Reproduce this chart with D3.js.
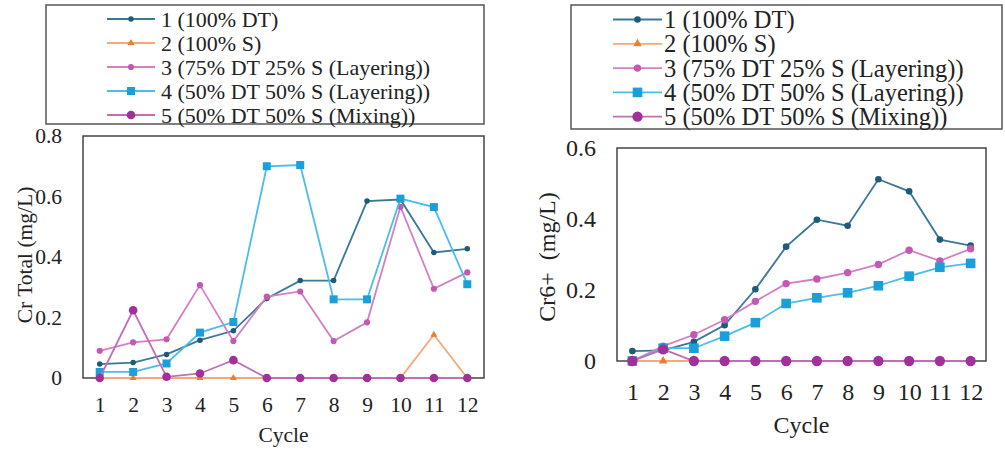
<!DOCTYPE html>
<html>
<head>
<meta charset="utf-8">
<script src="https://cdn.jsdelivr.net/npm/d3@7"></script>
<style>
  html, body { margin: 0; padding: 0; background: #fff; }
  svg { display: block; }
  text { font-family: "Liberation Serif", "Times New Roman", serif; fill: #222; }
</style>
</head>
<body>
<svg id="chart" width="1005" height="453"></svg>
<script>
const cycles = [1, 2, 3, 4, 5, 6, 7, 8, 9, 10, 11, 12];
const seriesNames = [
  '1 (100% DT)',
  '2 (100% S)',
  '3 (75% DT 25% S (Layering))',
  '4 (50% DT 50% S (Layering))',
  '5 (50% DT 50% S (Mixing))',
];

// Cr Total (mg/L)
const crTotal1 = [0.046, 0.051, 0.078, 0.125, 0.156, 0.263, 0.322, 0.322, 0.585, 0.59, 0.415, 0.427];
const crTotal2 = [0, 0, 0, 0, 0, 0, 0, 0, 0, 0, 0.143, 0];
const crTotal3 = [0.09, 0.118, 0.128, 0.307, 0.122, 0.269, 0.286, 0.122, 0.184, 0.566, 0.295, 0.349];
const crTotal4 = [0.02, 0.02, 0.048, 0.15, 0.185, 0.70, 0.704, 0.26, 0.26, 0.593, 0.565, 0.31];
const crTotal5 = [0, 0.224, 0.004, 0.015, 0.059, 0, 0, 0, 0, 0, 0, 0];

// Cr6+ (mg/L)
const cr6_1 = [0.028, 0.03, 0.054, 0.101, 0.202, 0.322, 0.398, 0.381, 0.512, 0.478, 0.342, 0.325];
const cr6_2 = [0, 0, 0, 0, 0, 0, 0, 0, 0, 0, 0, 0];
const cr6_3 = [0, 0.042, 0.074, 0.116, 0.168, 0.218, 0.231, 0.249, 0.272, 0.312, 0.282, 0.316];
const cr6_4 = [0, 0.036, 0.036, 0.07, 0.108, 0.162, 0.178, 0.192, 0.212, 0.239, 0.264, 0.275];
const cr6_5 = [0, 0.033, 0, 0, 0, 0, 0, 0, 0, 0, 0, 0];

const crTotalTicks = [0, 0.2, 0.4, 0.6, 0.8];
const cr6Ticks = [0, 0.2, 0.4, 0.6];

const lineColors = ['#3a7896', '#f6a87a', '#d47fc4', '#4bbde8', '#c36cb8'];
const markColors = ['#1d5b7c', '#ed7d31', '#c458b2', '#1a9fdb', '#a2309a'];
const markTypes = ['circle', 'triangle', 'diamond', 'square', 'bigcircle'];

function markerPath(type, big) {
  const k = big ? 1.2 : 1;
  if (type === 'circle') return d3.symbol(d3.symbolCircle, 24 * k * k)();
  if (type === 'triangle') return d3.symbol(d3.symbolTriangle, 22 * k * k)();
  if (type === 'diamond') return d3.symbol(d3.symbolCircle, 30 * k * k)();
  if (type === 'square') return d3.symbol(d3.symbolSquare, 64 * k * k)();
  return d3.symbol(d3.symbolCircle, 58 * k * k)();
}

function fmt(d) {
  return d === 0 ? '0' : d3.format('.1f')(d);
}

function drawChart(svg, cfg) {
  const g = svg.append('g');
  const xScale = d3.scalePoint()
    .domain(cycles)
    .range([cfg.left, cfg.right])
    .padding(0.5);
  const yScale = d3.scaleLinear()
    .domain([0, cfg.yMax])
    .range([cfg.bottom, cfg.top]);

  // frame
  g.append('rect')
    .attr('x', cfg.left)
    .attr('y', cfg.top)
    .attr('width', cfg.right - cfg.left)
    .attr('height', cfg.bottom - cfg.top)
    .attr('fill', 'none')
    .attr('stroke', '#444')
    .attr('stroke-width', 1.5);

  const xAxis = d3.axisBottom(xScale).tickSize(0).tickPadding(cfg.xPad);
  const xg = g.append('g')
    .attr('transform', `translate(0, ${cfg.bottom})`)
    .call(xAxis);
  xg.select('.domain').remove();
  xg.selectAll('text')
    .style('font-family', '"Liberation Serif", serif')
    .style('font-size', `${cfg.font}px`)
    .style('fill', '#222');

  const yAxis = d3.axisLeft(yScale).tickValues(cfg.ticks).tickFormat(fmt)
    .tickSize(0).tickPadding(cfg.yPad);
  const yg = g.append('g')
    .attr('transform', `translate(${cfg.left}, 0)`)
    .call(yAxis);
  yg.select('.domain').remove();
  yg.selectAll('text')
    .style('font-family', '"Liberation Serif", serif')
    .style('font-size', `${cfg.font}px`)
    .style('fill', '#222');

  g.append('text')
    .attr('x', (cfg.left + cfg.right) / 2)
    .attr('y', cfg.xTitleY)
    .attr('text-anchor', 'middle')
    .style('font-size', `${cfg.font}px`)
    .text('Cycle');

  g.append('text')
    .attr('transform', `translate(${cfg.yTitleX}, ${cfg.yTitleY}) rotate(-90)`)
    .attr('text-anchor', 'middle')
    .attr('dominant-baseline', 'central')
    .style('font-size', `${cfg.font}px`)
    .style('white-space', 'pre')
    .text(cfg.yTitle);

  const line = d3.line()
    .x((d, i) => xScale(cycles[i]))
    .y((d) => yScale(d));

  cfg.series.forEach((values, s) => {
    g.append('path')
      .datum(values)
      .attr('d', line)
      .attr('fill', 'none')
      .attr('stroke', lineColors[s])
      .attr('stroke-width', 1.8);
    g.selectAll(null)
      .data(values)
      .enter()
      .append('path')
      .attr('d', markerPath(markTypes[s], cfg.big))
      .attr('transform', (d, i) => `translate(${xScale(cycles[i])}, ${yScale(d)})`)
      .attr('fill', markColors[s]);
  });

  // legend
  const lg = svg.append('g');
  lg.append('rect')
    .attr('x', cfg.legend.x0)
    .attr('y', cfg.legend.y0)
    .attr('width', cfg.legend.x1 - cfg.legend.x0)
    .attr('height', cfg.legend.y1 - cfg.legend.y0)
    .attr('fill', '#fff')
    .attr('stroke', '#555')
    .attr('stroke-width', 1.5);
  seriesNames.forEach((name, s) => {
    const y = cfg.legend.firstRow + s * cfg.legend.rowGap;
    lg.append('line')
      .attr('x1', cfg.legend.lineX0)
      .attr('x2', cfg.legend.lineX1)
      .attr('y1', y)
      .attr('y2', y)
      .attr('stroke', lineColors[s])
      .attr('stroke-width', 1.8);
    lg.append('path')
      .attr('d', markerPath(markTypes[s], cfg.big))
      .attr('transform', `translate(${(cfg.legend.lineX0 + cfg.legend.lineX1) / 2}, ${y})`)
      .attr('fill', markColors[s]);
    lg.append('text')
      .attr('x', cfg.legend.textX)
      .attr('y', y)
      .attr('dominant-baseline', 'central')
      .style('font-size', `${cfg.legend.font}px`)
      .text(name);
  });
}

const svg = d3.select('#chart');

drawChart(svg, {
  left: 83, right: 484, top: 136, bottom: 378,
  yMax: 0.8, ticks: crTotalTicks,
  series: [crTotal1, crTotal2, crTotal3, crTotal4, crTotal5],
  font: 21.5, xPad: 19, yPad: 21,
  xTitleY: 442, yTitleX: 25, yTitleY: 255,
  yTitle: 'Cr Total (mg/L)',
  big: false,
  legend: {
    x0: 46, x1: 484, y0: 5, y1: 124,
    firstRow: 19, rowGap: 24,
    lineX0: 107, lineX1: 155, textX: 161, font: 22,
  },
});

drawChart(svg, {
  left: 617, right: 986, top: 148, bottom: 361,
  yMax: 0.6, ticks: cr6Ticks,
  series: [cr6_1, cr6_2, cr6_3, cr6_4, cr6_5],
  font: 24, xPad: 22, yPad: 21,
  xTitleY: 433, yTitleX: 547, yTitleY: 257,
  yTitle: 'Cr6+  (mg/L)',
  big: true,
  legend: {
    x0: 571, x1: 1002, y0: 5, y1: 129,
    firstRow: 19.5, rowGap: 24.3,
    lineX0: 613, lineX1: 662, textX: 664, font: 24.5,
  },
});
</script>
</body>
</html>
